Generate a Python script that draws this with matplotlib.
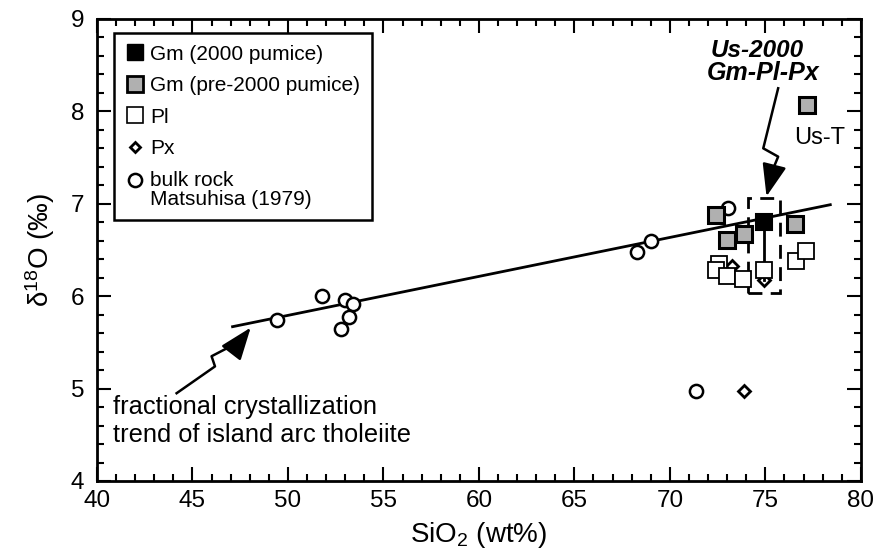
import matplotlib
matplotlib.use("Agg")
import matplotlib.pyplot as plt
from matplotlib.lines import Line2D
from matplotlib.patches import Rectangle
from matplotlib.legend_handler import HandlerLine2D
from matplotlib.ticker import MultipleLocator

plt.rcParams['font.family'] = ['Liberation Sans', 'DejaVu Sans']
plt.rcParams['mathtext.fontset'] = 'custom'
plt.rcParams['mathtext.rm'] = 'Liberation Sans'
plt.rcParams['mathtext.it'] = 'Liberation Sans:italic'

# Data (SiO2 wt%, d18O permil)
gm2000_x = [74.95]
gm2000_y = [6.80]
gmpre_x = [72.44, 72.97, 73.90, 76.55, 77.20]
gmpre_y = [6.88, 6.61, 6.67, 6.78, 8.07]
pl_x = [72.55, 72.40, 73.00, 73.85, 74.95, 76.60, 77.15]
pl_y = [6.35, 6.28, 6.22, 6.19, 6.28, 6.38, 6.49]
px_x = [73.25, 74.95, 73.87]
px_y = [6.33, 6.18, 4.97]
bulk_x = [49.41, 51.76, 52.98, 53.42, 53.21, 52.76, 68.30, 69.00, 71.36, 73.05]
bulk_y = [5.74, 6.00, 5.96, 5.92, 5.78, 5.65, 6.48, 6.60, 4.97, 6.95]

# fractional crystallization trend line
trend_x = [47.1, 78.4]
trend_y = [5.67, 6.99]

# Us-2000 tie line (Gm - Pl - Px) and dashed frame
tie_x = [74.95, 74.95]
tie_y = [6.80, 6.18]
box_x0, box_x1 = 74.1, 75.75
box_y0, box_y1 = 6.03, 7.06

# lightning-bolt arrows
bolt1_x = [44.17, 46.18, 46.00, 47.49]
bolt1_y = [4.95, 5.24, 5.35, 5.51]
bolt1_tip = (48.05, 5.66)
bolt2_x = [75.67, 74.89, 75.67, 75.45]
bolt2_y = [8.25, 7.60, 7.51, 7.40]
bolt2_tip = (75.06, 7.08)

GREY = '#b0b0b0'


class RaisedHandler(HandlerLine2D):
    # puts the marker on the first line of a two-line label
    def __init__(self, raise_pt, **kw):
        super().__init__(**kw)
        self.raise_pt = raise_pt

    def create_artists(self, legend, orig_handle, xdescent, ydescent, width,
                       height, fontsize, trans):
        return super().create_artists(legend, orig_handle, xdescent,
                                      ydescent - 2 * self.raise_pt, width,
                                      height, fontsize, trans)


fig = plt.figure(figsize=(8.76, 5.58), dpi=100)
ax = fig.add_axes([0.1107, 0.138, 0.872, 0.828])

ax.plot(trend_x, trend_y, color='black', lw=2, zorder=2)

ax.plot(bulk_x, bulk_y, 'o', ms=9.5, mfc='white', mec='black', mew=1.8, ls='none', zorder=3)
ax.plot(px_x, px_y, 'D', ms=6.5, mfc='white', mec='black', mew=2, ls='none', zorder=3)
ax.plot(tie_x, tie_y, color='black', lw=2, zorder=3)
ax.plot(pl_x, pl_y, 's', ms=11, mfc='white', mec='black', mew=1.3, ls='none', zorder=4)
ax.plot(gmpre_x, gmpre_y, 's', ms=12, mfc=GREY, mec='black', mew=2.2, ls='none', zorder=5)
ax.plot(gm2000_x, gm2000_y, 's', ms=12, mfc='black', mec='black', mew=1.5, ls='none', zorder=6)

ax.add_patch(Rectangle((box_x0, box_y0), box_x1 - box_x0, box_y1 - box_y0,
                       fill=False, ls=(0, (5, 3)), lw=2, ec='black', zorder=2))

for bx, by, tip in [(bolt1_x, bolt1_y, bolt1_tip), (bolt2_x, bolt2_y, bolt2_tip)]:
    ax.plot(bx, by, color='black', lw=1.8, zorder=2)
    ax.annotate('', xy=tip, xytext=(bx[-1], by[-1]),
                arrowprops=dict(arrowstyle='-|>,head_length=0.8,head_width=0.3',
                                mutation_scale=25, lw=1.8, color='black',
                                shrinkA=0, shrinkB=0))

ax.text(40.85, 4.80, 'fractional crystallization', fontsize=18.3, va='center', ha='left')
ax.text(40.85, 4.50, 'trend of island arc tholeiite', fontsize=18.3, va='center', ha='left')
ax.text(74.55, 8.66, 'Us-2000', fontsize=17.5, fontweight='bold', fontstyle='italic',
        ha='center', va='center')
ax.text(74.88, 8.41, 'Gm-Pl-Px', fontsize=18, fontweight='bold', fontstyle='italic',
        ha='center', va='center')
ax.text(77.85, 7.71, 'Us-T', fontsize=17, ha='center', va='center')

bulk_handle = Line2D([], [], marker='o', ms=9.5, mfc='white', mec='black', mew=1.8, ls='none')
handles = [
    Line2D([], [], marker='s', ms=12, mfc='black', mec='black', ls='none'),
    Line2D([], [], marker='s', ms=12, mfc=GREY, mec='black', mew=2, ls='none'),
    Line2D([], [], marker='s', ms=11, mfc='white', mec='black', mew=1.2, ls='none'),
    Line2D([], [], marker='D', ms=5.5, mfc='white', mec='black', mew=2, ls='none'),
    bulk_handle,
]
labels = ['Gm (2000 pumice)', 'Gm (pre-2000 pumice)', 'Pl', 'Px',
          'bulk rock\nMatsuhisa (1979)']
leg = ax.legend(handles, labels, loc='upper left', bbox_to_anchor=(0.022, 0.969),
                borderaxespad=0, fontsize=15, frameon=True, fancybox=False,
                framealpha=1, edgecolor='black', handlelength=0.9, handletextpad=0.3,
                labelspacing=0.6, borderpad=0.55,
                handler_map={bulk_handle: RaisedHandler(7.5)})
leg.get_frame().set_linewidth(1.8)
leg.get_texts()[-1].set_linespacing(1.0)

ax.set_xlim(40, 80)
ax.set_ylim(4, 9)
ax.xaxis.set_major_locator(MultipleLocator(5))
ax.xaxis.set_minor_locator(MultipleLocator(1))
ax.yaxis.set_major_locator(MultipleLocator(1))
ax.yaxis.set_minor_locator(MultipleLocator(0.2))
ax.tick_params(which='both', direction='in', top=True, right=True, labelsize=17.5, width=1.5)
ax.tick_params(which='major', length=10)
ax.tick_params(which='minor', length=5)
ax.tick_params(axis='x', which='major', pad=6.5)
ax.tick_params(axis='y', which='major', pad=9)
for sp in ax.spines.values():
    sp.set_linewidth(2)

ax.set_xlabel('SiO$_2$ (wt%)', fontsize=20, labelpad=6)
ax.set_ylabel('δ$^{18}$O (‰)', fontsize=20, labelpad=10)

fig.savefig('out.png', dpi=100)
